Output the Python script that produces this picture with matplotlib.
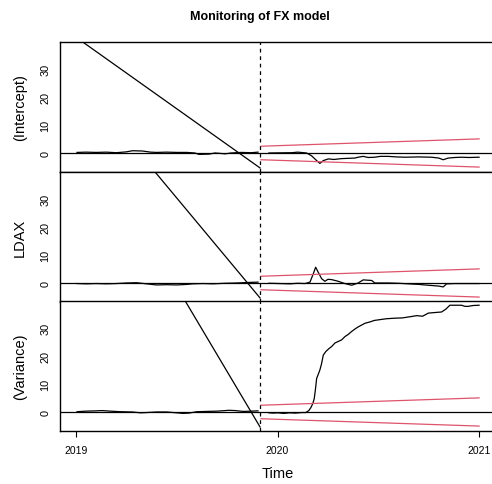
import matplotlib
matplotlib.use("Agg")
import matplotlib.pyplot as plt

plt.rcParams['font.family'] = ['Liberation Sans', 'DejaVu Sans']

# ---------------- data ----------------
panel_labels = ["(Intercept)", "LDAX", "(Variance)"]
x_ticks = [2019, 2020, 2021]
x_tick_labels = ["2019", "2020", "2021"]
y_ticks = [0, 10, 20, 30]
monitor_start = 2019.913

# historical process
hist_t_1 = [2019.005, 2019.05, 2019.10, 2019.15, 2019.20, 2019.25, 2019.28, 2019.33, 2019.37, 2019.40,
            2019.45, 2019.50, 2019.55, 2019.59, 2019.61, 2019.66, 2019.69, 2019.74, 2019.77, 2019.82,
            2019.87, 2019.903]
hist_v_1 = [0.2, 0.3, 0.2, 0.3, 0.1, 0.4, 0.8, 0.7, 0.3, 0.2,
            0.3, 0.2, 0.2, 0.0, -0.5, -0.4, 0.0, -0.3, 0.0, 0.2,
            0.1, 0.3]
hist_t_2 = [2019.005, 2019.05, 2019.10, 2019.15, 2019.20, 2019.25, 2019.30, 2019.35, 2019.40, 2019.45,
            2019.50, 2019.55, 2019.58, 2019.63, 2019.68, 2019.74, 2019.80, 2019.86, 2019.903]
hist_v_2 = [-0.2, -0.3, -0.2, -0.3, -0.2, 0.0, 0.1, -0.3, -0.7, -0.6,
            -0.7, -0.5, -0.3, -0.2, -0.3, -0.1, 0.0, 0.2, 0.3]
hist_t_3 = [2019.005, 2019.05, 2019.10, 2019.13, 2019.17, 2019.22, 2019.28, 2019.32, 2019.35, 2019.40,
            2019.45, 2019.50, 2019.53, 2019.56, 2019.60, 2019.65, 2019.70, 2019.76, 2019.79, 2019.83,
            2019.87, 2019.903]
hist_v_3 = [0.1, 0.3, 0.4, 0.5, 0.3, 0.1, 0.0, -0.3, -0.2, 0.0,
            0.0, -0.3, -0.5, -0.4, 0.1, 0.2, 0.3, 0.6, 0.5, 0.2,
            0.3, 0.4]

# monitoring process
mon_t_1 = [2019.957, 2020.07, 2020.10, 2020.144, 2020.169, 2020.194, 2020.210, 2020.227, 2020.252, 2020.28,
           2020.318, 2020.35, 2020.384, 2020.40, 2020.425, 2020.45, 2020.483, 2020.51, 2020.549, 2020.59,
           2020.632, 2020.70, 2020.764, 2020.80, 2020.822, 2020.847, 2020.88, 2020.913, 2020.95, 2021.0]
mon_v_1 = [0.0, 0.1, 0.3, 0.0, -1.0, -2.7, -3.7, -2.7, -2.1, -2.3,
           -2.0, -1.9, -1.8, -1.5, -1.2, -1.6, -1.5, -1.2, -1.2, -1.4,
           -1.5, -1.4, -1.5, -1.8, -2.4, -1.8, -1.6, -1.5, -1.6, -1.5]
mon_t_2 = [2019.957, 2020.062, 2020.10, 2020.136, 2020.161, 2020.177, 2020.189, 2020.202, 2020.219, 2020.235,
           2020.25, 2020.268, 2020.285, 2020.301, 2020.334, 2020.368, 2020.38, 2020.400, 2020.425, 2020.445,
           2020.467, 2020.483, 2020.55, 2020.60, 2020.647, 2020.70, 2020.748, 2020.80, 2020.822, 2020.839,
           2020.880, 2020.95, 2021.0]
mon_v_2 = [-0.1, -0.3, -0.1, -0.2, 0.3, 3.2, 5.6, 3.8, 1.5, 0.6,
           1.3, 1.2, 0.9, 0.6, -0.2, -0.8, -0.5, 0.0, 1.1, 1.0,
           0.9, 0.0, 0.0, -0.1, -0.3, -0.5, -0.8, -1.1, -1.4, -0.3,
           -0.2, -0.2, -0.2]
mon_t_3 = [2019.957, 2019.98, 2020.00, 2020.03, 2020.06, 2020.09, 2020.12, 2020.14, 2020.155, 2020.165,
           2020.175, 2020.182, 2020.188, 2020.194, 2020.20, 2020.21, 2020.218, 2020.227, 2020.24, 2020.255,
           2020.268, 2020.285, 2020.30, 2020.318, 2020.335, 2020.35, 2020.368, 2020.385, 2020.40, 2020.434,
           2020.46, 2020.48, 2020.50, 2020.54, 2020.582, 2020.62, 2020.665, 2020.69, 2020.72, 2020.748,
           2020.78, 2020.814, 2020.835, 2020.855, 2020.88, 2020.913, 2020.93, 2020.946, 2020.97, 2021.0]
mon_v_3 = [-0.3, -0.4, -0.3, -0.5, -0.3, -0.4, -0.2, -0.2, 0.5, 1.5,
           3.0, 4.7, 8.0, 11.9, 13.0, 14.9, 17.0, 20.2, 21.5, 22.5,
           23.2, 24.5, 25.0, 25.6, 26.8, 27.5, 28.6, 29.5, 30.2, 31.5,
           32.0, 32.5, 32.7, 33.1, 33.3, 33.4, 33.9, 34.2, 34.0, 35.1,
           35.3, 35.5, 36.5, 37.9, 37.9, 37.9, 37.5, 37.5, 37.8, 37.9]

# boundaries (monitoring period)
bound_t = [2019.918, 2021.0]
upper_bound = [2.4, 5.0]
lower_bound = [-2.4, -5.0]

# connecting lines of the historical period
diag_t = [2019.0, 2019.913]
diag_v_1 = [41.1, -5.3]
diag_v_2 = [73.1, -5.3]
diag_v_3 = [104.7, -5.3]

hist_t = [hist_t_1, hist_t_2, hist_t_3]
hist_v = [hist_v_1, hist_v_2, hist_v_3]
mon_t = [mon_t_1, mon_t_2, mon_t_3]
mon_v = [mon_v_1, mon_v_2, mon_v_3]
diag_v = [diag_v_1, diag_v_2, diag_v_3]

# ---------------- figure ----------------
W, H = 492, 485
fig = plt.figure(figsize=(W / 100, H / 100), dpi=100)

left_px, right_px = 60, 495
tops = [43, 173, 302]
ph = 130
red = "#DF536B"
lw = 0.9

axes = []
for i in range(3):
    top = tops[i]
    ax = fig.add_axes([left_px / W, 1 - (top + ph) / H, (right_px - left_px) / W, ph / H])
    axes.append(ax)
    ax.set_xlim(2018.9206, 2021.079)
    ax.set_ylim(-6.75, 39.4)
    ax.axhline(0, color="black", lw=lw)
    ax.plot(diag_t, diag_v[i], color="black", lw=lw)
    ax.plot(hist_t[i], hist_v[i], color="black", lw=lw)
    ax.plot(mon_t[i], mon_v[i], color="black", lw=lw)
    ax.plot(bound_t, upper_bound, color=red, lw=lw)
    ax.plot(bound_t, lower_bound, color=red, lw=lw)
    ax.axvline(monitor_start, color="black", lw=lw, linestyle=(0, (3, 3)))
    ax.set_yticks(y_ticks)
    ax.set_yticklabels([str(v) for v in y_ticks], rotation=90, va="center", fontsize=7.8)
    ax.tick_params(axis="y", length=0, pad=7)
    ax.set_ylabel(panel_labels[i], fontsize=10.5)
    ax.yaxis.set_label_coords(-0.076, 0.5)
    for s in ax.spines.values():
        s.set_linewidth(1.0)
    if i < 2:
        ax.set_xticks([])
    else:
        ax.set_xticks(x_ticks)
        ax.set_xticklabels(x_tick_labels, fontsize=7.5)
        ax.tick_params(axis="x", length=4, width=0.8, pad=6)
        ax.set_xlabel("Time", fontsize=10.5, labelpad=8)

fig.text(260 / W, 1 - 17 / H, "Monitoring of FX model", ha="center", va="center",
         fontsize=9, fontweight="bold")

fig.savefig("out.png", dpi=100)
